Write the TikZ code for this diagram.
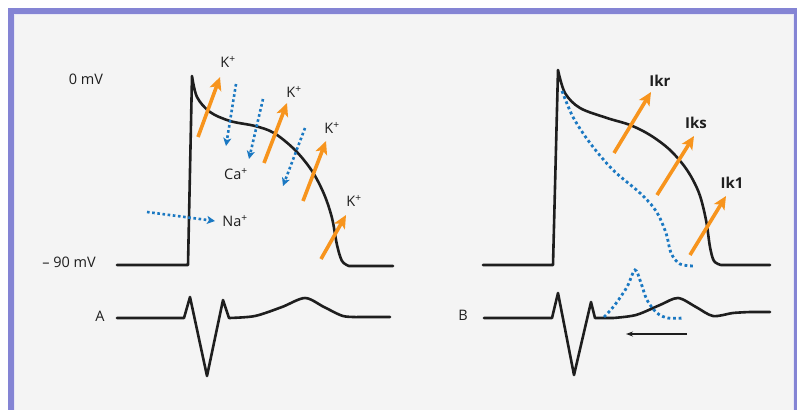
\documentclass[tikz,border=0pt]{standalone}
\usepackage{fontspec}
\setmainfont{Open Sans}
\usetikzlibrary{arrows.meta}
\definecolor{frame}{HTML}{8484D4}
\definecolor{panel}{HTML}{F4F4F4}
\definecolor{korange}{HTML}{F7941D}
\definecolor{ionblue}{HTML}{1A78C2}
\definecolor{ink}{HTML}{1E1E1E}
\tikzset{
  trace/.style={draw=ink, line width=2.6pt, line join=round, line cap=round},
  efflux/.style={draw=korange, line width=3.6pt, -{Stealth[length=13pt,width=12pt,inset=3pt]}},
  influx/.style={draw=ionblue, line width=2.6pt, dash pattern=on 2.6pt off 2.6pt, -{Stealth[length=8pt,width=8pt,inset=2pt]}},
  dotcurve/.style={draw=ionblue, line width=2.8pt, dash pattern=on 2.8pt off 2.8pt},
  lbl/.style={text=ink, inner sep=0pt, font=\fontsize{14.5}{17}\selectfont},
  ilbl/.style={lbl, font=\fontsize{15}{18}\selectfont\bfseries}
}
\begin{document}
\begin{tikzpicture}[x=1pt,y=-1pt]
\useasboundingbox (0,0) rectangle (797,410);
\fill[white] (0,0) rectangle (797,410);
\fill[frame] (8,8) rectangle (797,410);
\fill[panel] (14,14) rectangle (794,410);
\draw[white!80!frame, line width=0.8pt] (14.4,410) -- (14.4,14.4) -- (793.6,14.4) -- (793.6,410);

% ---------- panel A ----------
\node[lbl] (zero) at (86,79) {0 mV};
\node[lbl] (minus) at (69,262) {– 90 mV};
\node[lbl] (A) at (100,316) {A};

\draw[trace] (117,265) -- (188,265) -- (192,76)
  -- plot[smooth, tension=0.55] coordinates {(192,76) (197,97) (210,112) (230,121) (255,126) (274,133) (295,150) (312,171) (324,194) (332,218) (337,245) (342,261) (349,266)}
  -- (393,266);

\draw[trace] (117,318) -- (184,318) -- (190,297) -- (207,376) -- (223,300) -- (229,318)
  -- plot[smooth, tension=0.5] coordinates {(229,318) (255,316) (282,307) (305,298) (324,307) (343,316) (360,317)}
  -- (390,317);

% K+ efflux arrows
\coordinate (k1s) at (198,137); \coordinate (k1e) at (220,77);
\coordinate (k2s) at (264,163); \coordinate (k2e) at (287,103);
\coordinate (k3s) at (303,201); \coordinate (k3e) at (326,141);
\coordinate (k4s) at (321,259); \coordinate (k4e) at (346,215);
\draw[efflux] (k1s) -- (k1e);
\draw[efflux] (k2s) -- (k2e);
\draw[efflux] (k3s) -- (k3e);
\draw[efflux] (k4s) -- (k4e);
\node[lbl] (K1) at (228,62) {K\textsuperscript{+}};
\node[lbl] (K2) at (294,92) {K\textsuperscript{+}};
\node[lbl] (K3) at (332,128) {K\textsuperscript{+}};
\node[lbl] (K4) at (354,201) {K\textsuperscript{+}};

% Ca / Na influx arrows
\coordinate (c1s) at (236,84); \coordinate (c1e) at (226,146);
\coordinate (c2s) at (263,99); \coordinate (c2e) at (249,159);
\coordinate (c3s) at (305,128); \coordinate (c3e) at (283,186);
\coordinate (nas) at (147,212); \coordinate (nae) at (215,221);
\draw[influx] (c1s) -- (c1e);
\draw[influx] (c2s) -- (c2e);
\draw[influx] (c3s) -- (c3e);
\draw[influx] (nas) -- (nae);
\node[lbl] (Ca) at (236,174) {Ca\textsuperscript{+}};
\node[lbl] (Na) at (235,221) {Na\textsuperscript{+}};

% ---------- panel B ----------
\node[lbl] (B) at (463,315) {B};

\draw[trace] (483,265) -- (553,265) -- (558,70)
  -- plot[smooth, tension=0.55] coordinates {(558,70) (565,93) (580,108) (607,118) (630,125) (650,135) (670,150) (687,170) (699,193) (706,220) (710,247) (714,261) (721,265)}
  -- (770,265);

\draw[dotcurve] plot[smooth, tension=0.55] coordinates {(562,91) (573,117) (590,143) (613,170) (640,193) (656,211) (666,233) (671,253) (680,264) (694,266)};

\draw[trace] (484,318) -- (552,318) -- (558,293) -- (574,375) -- (591,302) -- (595,318) -- (613,318)
  -- plot[smooth, tension=0.5] coordinates {(613,318) (636,315) (660,305) (678,298) (696,307) (713,316) (733,313) (750,312)}
  -- (770,312);

\draw[dotcurve] plot[smooth, tension=0.55] coordinates {(604,317) (614,306) (627,287) (635,270) (641,283) (647,300) (657,313) (668,318) (683,318)};

\coordinate (arrs) at (687,334); \coordinate (arre) at (626,334);
\draw[ink, line width=1.2pt, -{Stealth[length=7pt,width=5pt]}] (arrs) -- (arre);

\coordinate (r1s) at (614,153); \coordinate (r1e) at (651,92);
\coordinate (r2s) at (657,195); \coordinate (r2e) at (694,136);
\coordinate (r3s) at (690,255); \coordinate (r3e) at (726,196);
\draw[efflux] (r1s) -- (r1e);
\draw[efflux] (r2s) -- (r2e);
\draw[efflux] (r3s) -- (r3e);
\node[ilbl] (Ikr) at (660,81) {Ikr};
\node[ilbl] (Iks) at (696,123) {Iks};
\node[ilbl] (Ik1) at (732,183) {Ik1};
\end{tikzpicture}
\end{document}
